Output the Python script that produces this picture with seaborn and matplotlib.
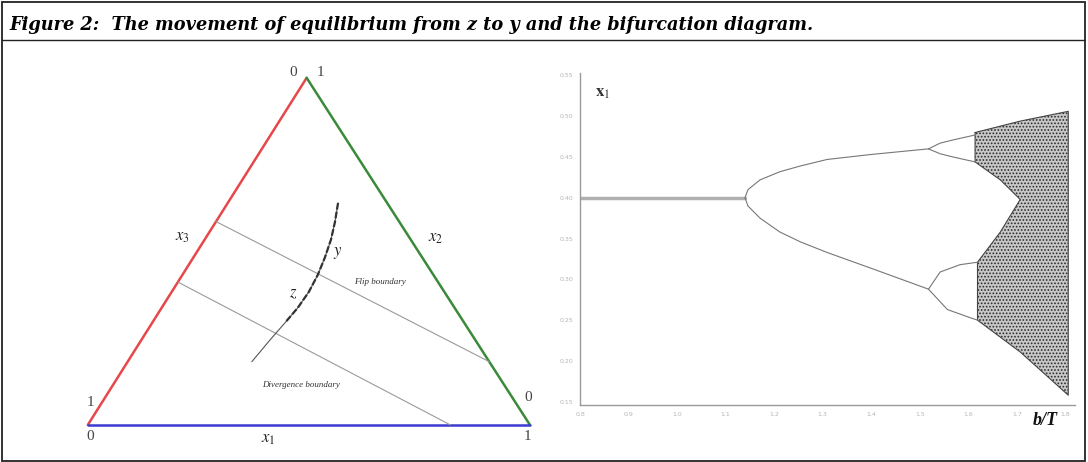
import matplotlib
matplotlib.use('Agg')
import matplotlib.pyplot as plt
import seaborn as sns
from matplotlib.lines import Line2D
from matplotlib.patches import Rectangle

# ---- left panel: simplex, in units of the bottom edge ----
top_vertex = (0.495, 0.785)
flip_u = [0.290, 0.908]
flip_v = [0.460, 0.143]
div_u = [0.204, 0.820]
div_v = [0.323, 0.0]
path_u = [0.566, 0.559, 0.550, 0.536, 0.520, 0.500, 0.475, 0.446, 0.412, 0.371]
path_v = [0.502, 0.459, 0.419, 0.378, 0.339, 0.301, 0.265, 0.231, 0.192, 0.143]

# ---- right panel: bifurcation diagram ----
fix_b = [0.80, 1.14]
fix_x = [0.40, 0.40]
p2_b = [1.140, 1.146, 1.171, 1.212, 1.254, 1.309, 1.398, 1.518]
p2_up = [0.400, 0.410, 0.422, 0.432, 0.439, 0.447, 0.453, 0.460]
p2_lo = [0.400, 0.390, 0.375, 0.358, 0.346, 0.333, 0.314, 0.288]
p4a_b = [1.518, 1.542, 1.569, 1.614]
p4a_up = [0.460, 0.467, 0.471, 0.477]
p4a_lo = [0.460, 0.454, 0.450, 0.444]
p4b_b_up = [1.518, 1.542, 1.583, 1.619]
p4b_up = [0.288, 0.309, 0.318, 0.321]
p4b_b_lo = [1.518, 1.557, 1.604, 1.619]
p4b_lo = [0.288, 0.263, 0.253, 0.250]
chaos_b = [1.614, 1.707, 1.806, 1.806, 1.707, 1.619, 1.619, 1.666, 1.707, 1.666, 1.614]
chaos_x = [0.480, 0.494, 0.506, 0.158, 0.211, 0.250, 0.321, 0.358, 0.398, 0.422, 0.444]
xticks = [0.8, 0.9, 1.0, 1.1, 1.2, 1.3, 1.4, 1.5, 1.6, 1.7, 1.8]
yticks = [0.15, 0.20, 0.25, 0.30, 0.35, 0.40, 0.45, 0.50, 0.55]

sns.set_style('white')
plt.rcParams['mathtext.fontset'] = 'stix'
plt.rcParams['hatch.linewidth'] = 0.8

fig = plt.figure(figsize=(10.88, 4.62), dpi=100)

# frame and title
fig.add_artist(Rectangle((0.002, 0.003), 0.995, 0.993, transform=fig.transFigure,
                         fill=False, lw=1.3, color='#222'))
fig.add_artist(Line2D([0.002, 0.997], [0.913, 0.913], transform=fig.transFigure,
                      lw=1.0, color='#222'))
fig.text(0.009, 0.935, 'Figure 2:  The movement of equilibrium from z to y and the bifurcation diagram.',
         family='DejaVu Serif', weight='bold', style='italic', fontsize=12.8, va='baseline',
         color='black')

# left panel
ax = fig.add_axes([0.0551, 0.0152, 0.4596, 0.8766])
ax.set_xlim(-0.063, 1.068)
ax.set_ylim(-0.068, 0.848)
ax.set_aspect('equal')
ax.axis('off')

sns.lineplot(x=[0, top_vertex[0]], y=[0, top_vertex[1]], ax=ax, color='#e8474a', lw=1.8, sort=False, estimator=None)
sns.lineplot(x=[top_vertex[0], 1], y=[top_vertex[1], 0], ax=ax, color='#3a8a3a', lw=1.8, sort=False, estimator=None)
sns.lineplot(x=[0, 1], y=[0, 0], ax=ax, color='#3b3bd0', lw=1.8, sort=False, estimator=None)
sns.lineplot(x=flip_u, y=flip_v, ax=ax, color='#9a9a9a', lw=0.8, sort=False, estimator=None)
sns.lineplot(x=div_u, y=div_v, ax=ax, color='#9a9a9a', lw=0.8, sort=False, estimator=None)
sns.lineplot(x=path_u, y=path_v, ax=ax, color='#555', lw=0.8, sort=False, estimator=None)
sns.lineplot(x=path_u[:8], y=path_v[:8], ax=ax, color='#333', lw=1.6, ls=(0, (3, 1)),
             sort=False, estimator=None)

num = dict(family='Liberation Serif', fontsize=11, color='#444', ha='center', va='center')
ax.text(0.464, 0.797, '0', **num)
ax.text(0.527, 0.797, '1', **num)
ax.text(0.005, 0.05, '1', **num)
ax.text(0.005, -0.027, '0', **num)
ax.text(0.995, 0.061, '0', **num)
ax.text(0.995, -0.027, '1', **num)
lab = dict(fontsize=12, color='#222', ha='center', va='center')
ax.text(0.215, 0.428, r'$x_3$', **lab)
ax.text(0.787, 0.425, r'$x_2$', **lab)
ax.text(0.407, -0.029, r'$x_1$', **lab)
ax.text(0.566, 0.391, r'$y$', **lab)
ax.text(0.464, 0.301, r'$z$', **lab)
small = dict(family='Liberation Serif', style='italic', fontsize=6.5, color='#333',
             ha='center', va='center')
ax.text(0.661, 0.324, 'Flip boundary', **small)
ax.text(0.482, 0.090, 'Divergence boundary', **small)

# right panel
bx = fig.add_axes([0.5331, 0.1234, 0.455, 0.7186])
bx.set_xlim(0.8, 1.82)
bx.set_ylim(0.146, 0.553)
for s in ['top', 'right']:
    bx.spines[s].set_visible(False)
for s in ['left', 'bottom']:
    bx.spines[s].set_color('#9a9a9a')
    bx.spines[s].set_linewidth(1.0)
bx.set_xticks(xticks)
bx.set_xticklabels([f'{t:.1f}' for t in xticks])
bx.set_yticks(yticks)
bx.set_yticklabels([f'{t:.2f}' for t in yticks])
bx.tick_params(length=2, width=0.6, color='#aaa', labelsize=4.5, labelcolor='#b5b5b5', pad=3)

bx.fill(chaos_b, chaos_x, facecolor='#c8c8c8', edgecolor='#2a2a2a', hatch='.....', lw=0)
sns.lineplot(x=chaos_b + chaos_b[:1], y=chaos_x + chaos_x[:1], ax=bx, color='#444', lw=0.8,
             sort=False, estimator=None)
sns.lineplot(x=fix_b, y=fix_x, ax=bx, color='#b0b0b0', lw=2.5, sort=False, estimator=None)
for bb, xx in [(p2_b, p2_up), (p2_b, p2_lo), (p4a_b, p4a_up), (p4a_b, p4a_lo),
               (p4b_b_up, p4b_up), (p4b_b_lo, p4b_lo)]:
    sns.lineplot(x=bb, y=xx, ax=bx, color='#777', lw=0.8, sort=False, estimator=None)

bx.text(0.03, 0.93, r'$\mathbf{x}_1$', transform=bx.transAxes, fontsize=12, color='#333')
bx.text(0.939, -0.02, 'b/T', transform=bx.transAxes, fontsize=13, family='Liberation Serif',
        weight='bold', style='italic', color='#111', ha='center', va='top')

fig.savefig('out.png', dpi=100)
